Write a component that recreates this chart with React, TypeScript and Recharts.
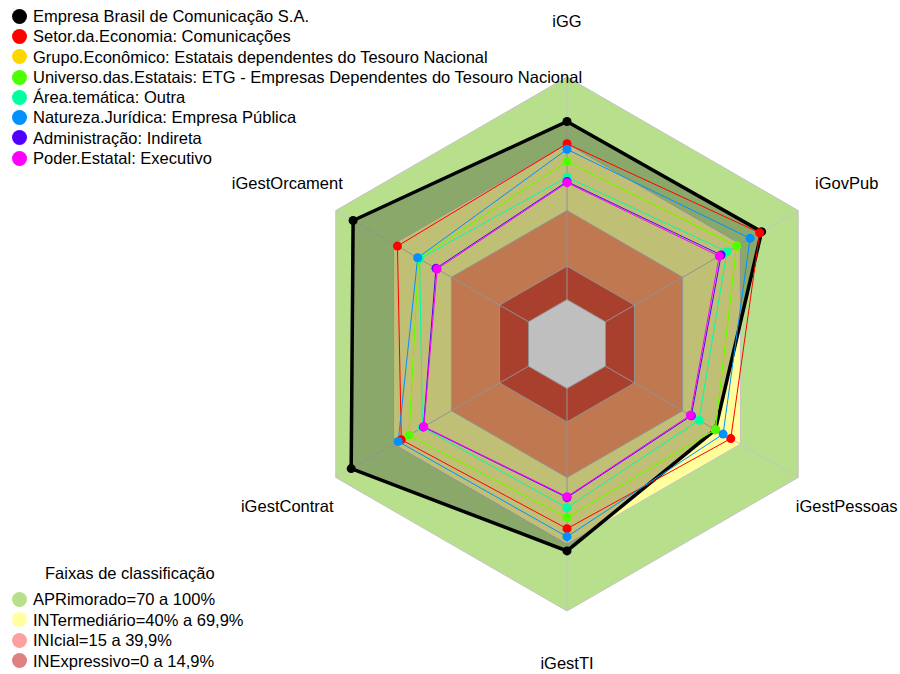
import React from 'react';
import { RadarChart, Radar, PolarGrid, PolarAngleAxis, PolarRadiusAxis } from 'recharts';

const axes = ['iGG', 'iGovPub', 'iGestPessoas', 'iGestTI', 'iGestContrat', 'iGestOrcament'];

// série -> valores por eixo, na mesma ordem de axes
const seriesNames = [
  'Empresa Brasil de Comunicação S.A.',
  'Setor.da.Economia: Comunicações',
  'Grupo.Econômico: Estatais dependentes do Tesouro Nacional',
  'Universo.das.Estatais: ETG - Empresas Dependentes do Tesouro Nacional',
  'Área.temática: Outra',
  'Natureza.Jurídica: Empresa Pública',
  'Administração: Indireta',
  'Poder.Estatal: Executivo',
];
const seriesColors = ['#000000', '#ff0000', '#ffd700', '#4dff00', '#00ff9f', '#0090ff', '#5000ff', '#ff00ff'];
const empresa = [80, 81, 57, 73, 92, 91];
const setor = [70, 80, 65, 63, 66, 68];
const grupo = [62, 68, 57, 58, 62, 57];
const universo = [62, 68, 57, 58, 62, 57];
const areaTematica = [55, 63, 48.5, 53.6, 55, 56.5];
const natureza = [67.5, 75, 61, 66.6, 67.6, 57.5];
const administracao = [53, 60, 44.5, 49, 54.5, 48];
const poder = [52.5, 59, 44, 48.6, 54.3, 47.4];
const seriesValues = [empresa, setor, grupo, universo, areaTematica, natureza, administracao, poder];

// faixas de classificação
const bandLimits = [100, 70, 40, 15, 0];
const bandFills = ['#b8e08c', '#ffff9c', '#ffa06b', '#e0563c', '#ffffff'];
const bandLabels = ['APRimorado=70 a 100%', 'INTermediário=40% a 69,9%', 'INIcial=15 a 39,9%', 'INExpressivo=0 a 14,9%'];
const bandLegendColors = ['#b8e08c', '#ffffa0', '#ffa0a0', '#e08080'];

const CX = 567;
const CY = 344;
const OUTER = 267;
const INNER = 44.5;
const LABEL_R = 323;
const FONT = '"Liberation Sans", Arial, sans-serif';
const FS = 16.5;

const data = axes.map((axis, i) => {
  const row: Record<string, any> = { axis };
  bandLimits.forEach((b) => (row['band' + b] = b));
  seriesValues.forEach((vals, s) => (row['s' + s] = vals[i]));
  return row;
});

const AngleTick = (props: any) => {
  const { payload } = props;
  const a = (payload.coordinate * Math.PI) / 180;
  const x = CX + LABEL_R * Math.cos(a);
  const y = Math.min(CY - LABEL_R * Math.sin(a), 663);
  return (
    <text x={x} y={y} textAnchor="middle" dominantBaseline="central" fontSize={FS} fill="#000" fontFamily={FONT}>
      {payload.value}
    </text>
  );
};

const Dot = ({ color }: { color: string }) => (
  <span
    style={{
      display: 'inline-block',
      width: 15,
      height: 15,
      borderRadius: '50%',
      background: color,
      marginRight: 6,
      flexShrink: 0,
    }}
  />
);

const App = () => {
  return (
    <div style={{ position: 'absolute', left: 0, top: 0, width: 900, height: 674, background: '#fff', fontFamily: FONT }}>
      <RadarChart
        width={900}
        height={674}
        data={data}
        cx={CX}
        cy={CY}
        outerRadius={OUTER}
        innerRadius={INNER}
        margin={{ top: 0, right: 0, bottom: 0, left: 0 }}
      >
        {bandLimits.map((b, i) => (
          <Radar
            key={'band' + b}
            dataKey={'band' + b}
            stroke="none"
            fill={bandFills[i]}
            fillOpacity={1}
            dot={false}
            zIndex={40}
            isAnimationActive={false}
          />
        ))}
        <PolarGrid gridType="polygon" stroke="#c4c4c4" strokeWidth={1} zIndex={60} />
        <PolarAngleAxis dataKey="axis" tick={AngleTick} tickLine={false} axisLine={false} />
        <PolarRadiusAxis
          type="number"
          domain={[0, 100]}
          ticks={[0, 15, 40, 70, 100]}
          tick={false}
          axisLine={false}
          angle={90}
        />
        {seriesNames.map((name, s) => (
          <Radar
            key={name}
            name={name}
            dataKey={'s' + s}
            stroke={seriesColors[s]}
            strokeWidth={s === 0 ? 3.5 : 1}
            fill="#000000"
            fillOpacity={s === 0 ? 0.25 : 0}
            dot={{ r: 4.5, fill: seriesColors[s], stroke: 'none', fillOpacity: 1 }}
            zIndex={100}
            isAnimationActive={false}
          />
        ))}
      </RadarChart>

      <div style={{ position: 'absolute', left: 12, top: 6, fontSize: FS, lineHeight: '20.3px' }}>
        {seriesNames.map((name, s) => (
          <div key={name} style={{ display: 'flex', alignItems: 'center', whiteSpace: 'nowrap' }}>
            <Dot color={seriesColors[s]} />
            {name}
          </div>
        ))}
      </div>

      <div style={{ position: 'absolute', left: 45, top: 563, fontSize: FS, lineHeight: '20px', whiteSpace: 'nowrap' }}>
        Faixas de classificação
      </div>
      <div style={{ position: 'absolute', left: 12, top: 589, fontSize: FS, lineHeight: '20.5px' }}>
        {bandLabels.map((label, i) => (
          <div key={label} style={{ display: 'flex', alignItems: 'center', whiteSpace: 'nowrap' }}>
            <Dot color={bandLegendColors[i]} />
            {label}
          </div>
        ))}
      </div>
    </div>
  );
};

export default App;
